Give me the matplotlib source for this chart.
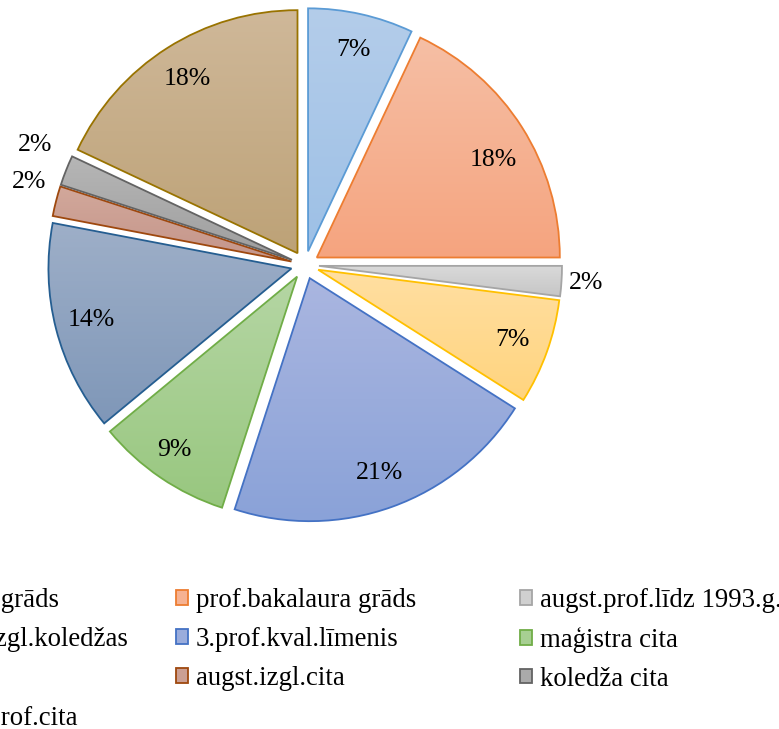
import numpy as np
import matplotlib.pyplot as plt
from matplotlib.colors import to_rgb
from matplotlib.patches import Rectangle

plt.rcParams['font.family'] = ['Liberation Serif', 'DejaVu Serif']

# data, in drawing order (clockwise from 12 o'clock)
labels = [
    'akad.bakalaura grāds',
    'prof.bakalaura grāds',
    'augst.prof.līdz 1993.g.',
    'koledžu augst.izgl.koledžas',
    '3.prof.kval.līmenis',
    'maģistra cita',
    'maģistra grāds',
    'augst.izgl.cita',
    'koledža cita',
    'koledžu augst.prof.cita',
]
shares = [7, 18, 2, 7, 21, 9, 14, 2, 2, 18]

edge_colors = ['#5B9BD5', '#ED7D31', '#A5A5A5', '#FFC000', '#4472C4',
               '#70AD47', '#255E91', '#9E480E', '#636363', '#997300']
top_colors = ['#B4CDEA', '#F6BFA5', '#DADADA', '#FFDFA2', '#AAB6E0',
              '#B5D6A4', '#9EAFC8', '#D2A89B', '#B6B6B6', '#CFB899']
bottom_colors = ['#9DC0E6', '#F5A47F', '#C6C6C6', '#FFD47E', '#8AA2D8',
                 '#98C77F', '#7F97B8', '#C4958A', '#9E9E9E', '#BDA277']

# where the percent labels sit (radii from the wedge centre) and a small angle nudge
label_dist = [0.85, 0.83, 1.10, 0.85, 0.85, 0.875, 0.85, 1.13, 1.16, 0.85]
label_nudge = [0, -3.5, 0, 0, 0, -1, 0, -2.5, -2.5, 0]

W, H = 779, 729
fig = plt.figure(figsize=(W / 100, H / 100), dpi=100)
ax = fig.add_axes([0, 0, 1, 1])

radius = 243
centre = (305, H - 265)
gap = 14  # explode distance, data units (= pixels here)
wedges, _ = ax.pie(shares, startangle=90, counterclock=False, radius=radius,
                   center=centre, explode=[gap] * len(shares),
                   wedgeprops=dict(linewidth=1.3, facecolor='none', zorder=2))

# vertical gradient fill per slice, clipped to the wedge
t = np.linspace(0, 1, 256)[:, None]
for w, top, bot, ec in zip(wedges, top_colors, bottom_colors, edge_colors):
    w.set_edgecolor(ec)
    bb = w.get_path().get_extents()
    grad = (1 - t) * np.array(to_rgb(top)) + t * np.array(to_rgb(bot))
    im = ax.imshow(grad[:, None, :], extent=(bb.x0, bb.x1, bb.y0, bb.y1),
                   origin='upper', aspect='auto', zorder=1,
                   interpolation='bilinear')
    im.set_clip_path(w)

total = sum(shares)
for w, s, d, nudge in zip(wedges, shares, label_dist, label_nudge):
    ang = np.deg2rad((w.theta1 + w.theta2) / 2 + nudge)
    x = w.center[0] + d * w.r * np.cos(ang)
    y = w.center[1] + d * w.r * np.sin(ang)
    ax.text(x, y, f'{round(100 * s / total)}%', ha='center', va='center',
            fontsize=18.5, color='black', zorder=3)

ax.set_xlim(0, W)
ax.set_ylim(0, H)
ax.axis('off')

# legend: three columns, filled row by row like the original
handles = []
for top, bot, ec in zip(top_colors, bottom_colors, edge_colors):
    mid = (np.array(to_rgb(top)) + np.array(to_rgb(bot))) / 2
    handles.append(Rectangle((0, 0), 1, 1, facecolor=mid, edgecolor=ec,
                             linewidth=1.3))

ncol = 3
col_x = [-187, 176, 520]
for c, cx in enumerate(col_x):
    idx = list(range(c, len(labels), ncol))
    fig.legend([handles[i] for i in idx], [labels[i] for i in idx],
               loc='upper left', bbox_to_anchor=(cx / W, 1 - 588 / H),
               frameon=False, borderpad=0, borderaxespad=0,
               handlelength=0.45, handleheight=0.45, handletextpad=0.3,
               labelspacing=0.52, fontsize=19.3)

fig.savefig('out.png', dpi=100)
